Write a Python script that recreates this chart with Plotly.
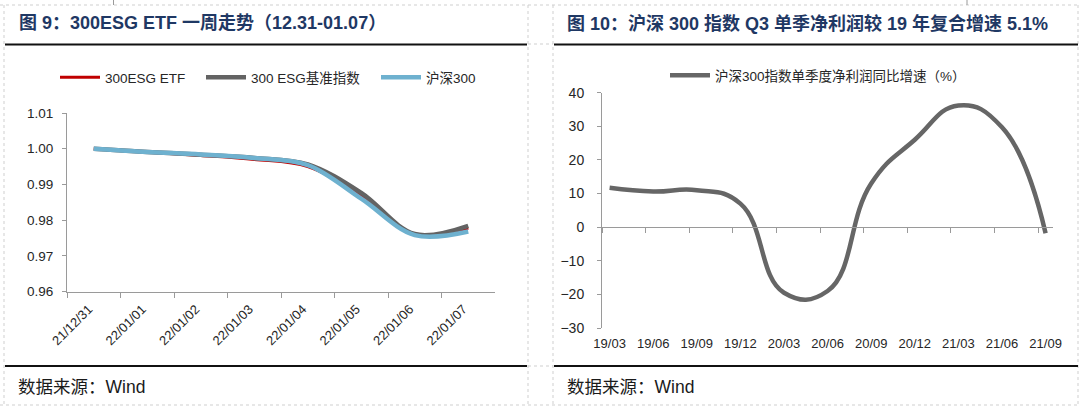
import plotly.graph_objects as go

# ---------------- data ----------------
left_dates = ["21/12/31", "22/01/01", "22/01/02", "22/01/03",
              "22/01/04", "22/01/05", "22/01/06", "22/01/07"]
etf_values = [1.0000, 0.9990, 0.9981, 0.9970, 0.9950, 0.9868, 0.9759, 0.9778]
esg_index_values = [1.0000, 0.9991, 0.9983, 0.9974, 0.9956, 0.9876, 0.9761, 0.9784]
hs300_values = [1.0000, 0.9991, 0.9984, 0.9974, 0.9954, 0.9860, 0.9758, 0.9768]

quarters = ["19/03", "19/06", "19/09", "19/12", "20/03", "20/06",
            "20/09", "20/12", "21/03", "21/06", "21/09"]
profit_growth = [11.7, 10.6, 11.0, 7.0, -19.5, -19.0, 13.0, 26.0, 36.2, 29.7, -1.8]

left_title = "图 9：300ESG ETF 一周走势（12.31-01.07）"
right_title = "图 10：沪深 300 指数 Q3 单季净利润较 19 年复合增速 5.1%"
source_text = "数据来源：Wind"
left_names = ["300ESG ETF", "300 ESG基准指数", "沪深300"]
right_name = "沪深300指数单季度净利润同比增速（%）"

# ---------------- layout helpers ----------------
W, H = 1080, 410
def X(px):
    return px / W
def Y(py):
    return 1 - py / H

FONT = "Liberation Sans, Arial, Noto Sans CJK SC, sans-serif"
AXIS = "#9a9a9a"
TXT = "#262626"

fig = go.Figure()

# left chart traces, each with its own legend box
left_colors = ["#C00000", "#636363", "#6EB1CF"]
left_widths = [3, 4.5, 4.5]
left_legends = ["legend", "legend3", "legend4"]
legend_starts = [55, 201, 376]
for name, vals, col, w, lg in zip(left_names, [etf_values, esg_index_values, hs300_values],
                                  left_colors, left_widths, left_legends):
    fig.add_trace(go.Scatter(x=left_dates, y=vals, name=name, mode="lines",
                             line=dict(color=col, width=w, shape="spline", smoothing=1.0),
                             xaxis="x", yaxis="y", legend=lg))

# right chart
idx = list(range(len(quarters)))
fig.add_trace(go.Scatter(x=idx, y=profit_growth, name=right_name, mode="lines",
                         line=dict(color="#666666", width=4.5, shape="spline", smoothing=1.3),
                         xaxis="x2", yaxis="y2", legend="legend2"))
# invisible helper for the zero-crossing axis with offset ticks
fig.add_trace(go.Scatter(x=idx, y=profit_growth, mode="lines", showlegend=False,
                         line=dict(color="rgba(0,0,0,0)", width=0), hoverinfo="skip",
                         xaxis="x3", yaxis="y2"))

y2_dom = [Y(328), Y(92.7)]
y2_range = [-30, 40]
zero_pos = y2_dom[0] + (y2_dom[1] - y2_dom[0]) * (0 - y2_range[0]) / (y2_range[1] - y2_range[0])
x2_range = [-0.174, len(quarters) - 1 + 0.17]
tick_offset = [i - 0.174 for i in idx]

legend_common = dict(orientation="h", yanchor="middle", xanchor="left",
                     font=dict(size=13.5, color=TXT), bgcolor="rgba(0,0,0,0)", itemwidth=40)
legends = {}
for lg, xs in zip(left_legends, legend_starts):
    legends[lg] = dict(legend_common, x=X(xs), y=Y(77.5))
legends["legend2"] = dict(legend_common, x=X(665), y=Y(75.5))

fig.update_layout(
    width=W, height=H,
    margin=dict(l=0, r=0, t=0, b=0, autoexpand=False),
    paper_bgcolor="white", plot_bgcolor="white",
    font=dict(family=FONT, size=13, color=TXT),
    xaxis=dict(domain=[X(67), X(495)], anchor="y", type="category", automargin=False,
               tickson="boundaries", ticks="outside", ticklen=5, tickcolor=AXIS,
               showline=True, linecolor=AXIS, linewidth=1, showgrid=False,
               tickangle=-45, tickfont=dict(size=13, color=TXT), range=[-0.5, 7.5],
               ticklabelshift=-5, ticklabelstandoff=4),
    yaxis=dict(domain=[Y(291.5), Y(113)], anchor="x", range=[0.96, 1.01], dtick=0.01,
               automargin=False,
               tickformat=".2f", ticks="outside", ticklen=4, tickcolor=AXIS,
               showline=True, linecolor=AXIS, linewidth=1, showgrid=False, zeroline=False,
               tickfont=dict(size=13.5, color=TXT), ticklabelstandoff=6),
    xaxis2=dict(domain=[X(602), X(1053)], anchor="y2", range=x2_range, automargin=False,
                tickvals=idx, ticktext=quarters, ticks="", showline=False, showgrid=False,
                zeroline=False, tickfont=dict(size=13, color=TXT), ticklabelstandoff=6),
    xaxis3=dict(overlaying="x2", anchor="free", position=zero_pos, range=x2_range,
                automargin=False,
                tickvals=tick_offset, showticklabels=False, ticks="outside", ticklen=5,
                tickcolor=AXIS, showline=True, linecolor=AXIS, linewidth=1,
                showgrid=False, zeroline=False, side="bottom"),
    yaxis2=dict(domain=y2_dom, anchor="x2", range=y2_range, dtick=10, automargin=False,
                ticks="outside", ticklen=4, tickcolor=AXIS, showline=True,
                linecolor=AXIS, linewidth=1, showgrid=False, zeroline=False,
                tickfont=dict(size=14, color=TXT), ticklabelstandoff=10),
    showlegend=True,
    **legends,
)

# titles and sources
title_font = dict(family=FONT, size=18, color="#1F3864")
fig.add_annotation(x=X(17), y=Y(23), xref="paper", yref="paper", text="<b>" + left_title + "</b>",
                   showarrow=False, xanchor="left", yanchor="middle", font=title_font)
fig.add_annotation(x=X(565), y=Y(23), xref="paper", yref="paper", text="<b>" + right_title + "</b>",
                   showarrow=False, xanchor="left", yanchor="middle", font=title_font)
src_font = dict(family=FONT, size=17.5, color="#1a1a1a")
fig.add_annotation(x=X(16), y=Y(387), xref="paper", yref="paper", text=source_text,
                   showarrow=False, xanchor="left", yanchor="middle", font=src_font)
fig.add_annotation(x=X(565), y=Y(387), xref="paper", yref="paper", text=source_text,
                   showarrow=False, xanchor="left", yanchor="middle", font=src_font)

# frame lines
dash = dict(color="#cfcfcf", width=1, dash="dot")
for (x0, y0, x1, y1) in [(0, 5, 1080, 5), (0, 405, 1080, 405),
                         (4, 5, 4, 405), (528, 5, 528, 405), (553, 5, 553, 405),
                         (1078, 5, 1078, 405), (528, 44, 553, 44), (528, 366, 553, 366)]:
    fig.add_shape(type="line", xref="paper", yref="paper", x0=X(x0), y0=Y(y0), x1=X(x1), y1=Y(y1),
                  line=dash)
solid = dict(color="#111111", width=2)
for (x0, x1) in [(5, 527), (554, 1078)]:
    for yy in (44.5, 366):
        fig.add_shape(type="line", xref="paper", yref="paper", x0=X(x0), y0=Y(yy), x1=X(x1), y1=Y(yy),
                      line=solid)
for xx in (113.5, 967):
    fig.add_shape(type="line", xref="paper", yref="paper", x0=X(xx), y0=Y(0), x1=X(xx), y1=Y(5),
                  line=dict(color="#9a9a9a", width=1))

fig.write_html("out.html", config={"displayModeBar": False},
               post_script="document.body.style.margin='0px';document.body.style.overflow='hidden';")
